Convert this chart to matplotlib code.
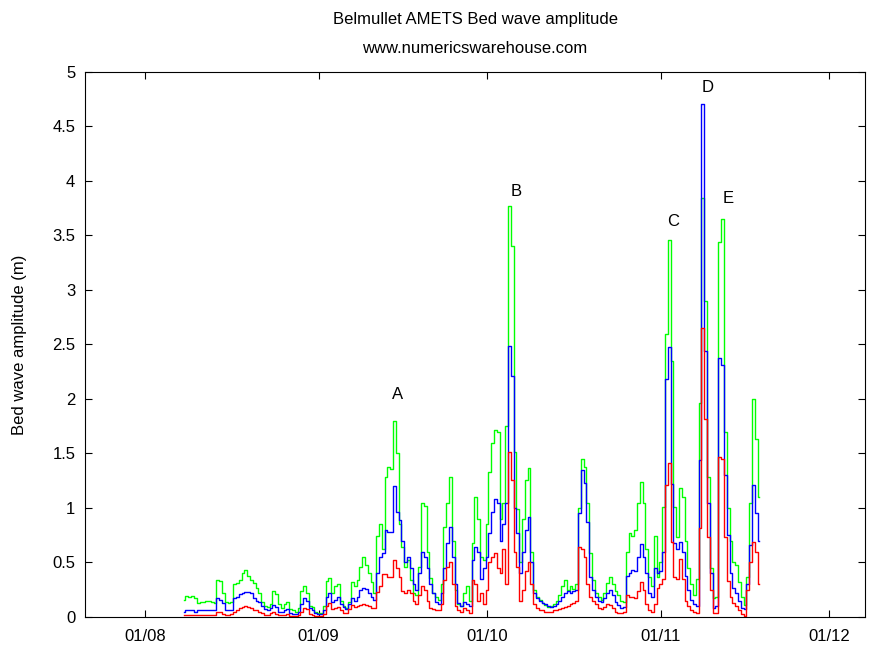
import numpy as np
import matplotlib
matplotlib.use('Agg')
import matplotlib.pyplot as plt
import matplotlib.dates as mdates
import matplotlib.ticker as ticker

# 12-hourly samples starting 08/08
start = np.datetime64('2012-08-08T00')

green = [0.16, 0.19, 0.18, 0.19, 0.17, 0.13, 0.14, 0.14, 0.15, 0.15,
         0.14, 0.13, 0.34, 0.33, 0.22, 0.14, 0.13, 0.14, 0.30, 0.31,
         0.34, 0.40, 0.43, 0.38, 0.34, 0.31, 0.27, 0.22, 0.14, 0.10,
         0.09, 0.12, 0.24, 0.21, 0.12, 0.08, 0.12, 0.14, 0.07, 0.06,
         0.05, 0.08, 0.24, 0.28, 0.22, 0.10, 0.09, 0.05, 0.04, 0.04,
         0.10, 0.33, 0.36, 0.22, 0.28, 0.30, 0.15, 0.10, 0.08, 0.14,
         0.32, 0.28, 0.34, 0.46, 0.55, 0.48, 0.40, 0.32, 0.22, 0.74,
         0.85, 0.62, 1.28, 1.38, 1.36, 1.80, 1.50, 0.85, 0.64, 0.46,
         0.52, 0.34, 0.22, 0.20, 0.46, 1.05, 1.02, 0.60, 0.36, 0.22,
         0.18, 0.16, 0.30, 0.83, 1.05, 1.28, 0.70, 0.25, 0.12, 0.10,
         0.22, 0.28, 0.15, 0.68, 1.10, 0.90, 0.55, 0.52, 0.85, 1.33,
         1.60, 1.72, 1.70, 0.90, 1.05, 1.75, 3.77, 3.40, 1.51, 0.99,
         0.50, 0.90, 1.26, 1.37, 0.60, 0.25, 0.18, 0.16, 0.13, 0.11,
         0.09, 0.10, 0.12, 0.15, 0.20, 0.28, 0.34, 0.25, 0.28, 0.26,
         0.30, 1.00, 1.45, 1.38, 1.05, 0.59, 0.34, 0.22, 0.18, 0.16,
         0.22, 0.31, 0.37, 0.30, 0.24, 0.20, 0.15, 0.14, 0.60, 0.77,
         0.74, 0.80, 1.05, 1.24, 1.05, 0.62, 0.37, 0.28, 0.74, 0.37,
         0.50, 1.01, 2.60, 3.46, 2.35, 1.01, 0.73, 1.18, 1.10, 0.70,
         0.45, 0.30, 0.20, 0.35, 1.96, 3.84, 2.90, 1.28, 0.45, 0.17,
         0.18, 3.44, 3.65, 1.70, 1.00, 0.70, 0.50, 0.48, 0.32, 0.18,
         0.11, 0.37, 1.05, 2.00, 1.63, 1.10]

blue = [0.05, 0.06, 0.06, 0.06, 0.05, 0.06, 0.06, 0.06, 0.06, 0.06,
        0.06, 0.06, 0.17, 0.16, 0.13, 0.06, 0.06, 0.06, 0.17, 0.18,
        0.21, 0.22, 0.23, 0.23, 0.22, 0.17, 0.15, 0.14, 0.10, 0.07,
        0.06, 0.08, 0.11, 0.09, 0.05, 0.05, 0.06, 0.07, 0.04, 0.03,
        0.03, 0.05, 0.12, 0.17, 0.15, 0.08, 0.06, 0.04, 0.03, 0.03,
        0.06, 0.18, 0.22, 0.14, 0.16, 0.18, 0.12, 0.09, 0.07, 0.12,
        0.17, 0.15, 0.18, 0.25, 0.27, 0.26, 0.22, 0.18, 0.16, 0.40,
        0.55, 0.59, 0.80, 0.78, 0.78, 1.20, 0.96, 0.89, 0.70, 0.50,
        0.55, 0.45, 0.30, 0.25, 0.40, 0.60, 0.55, 0.45, 0.30, 0.22,
        0.14, 0.12, 0.22, 0.45, 0.68, 0.83, 0.55, 0.30, 0.13, 0.10,
        0.14, 0.12, 0.10, 0.52, 0.64, 0.60, 0.35, 0.45, 0.55, 0.77,
        0.96, 1.08, 1.05, 0.70, 0.85, 1.05, 2.49, 2.21, 1.00, 0.77,
        0.40, 0.60, 0.80, 0.92, 0.50, 0.22, 0.17, 0.15, 0.13, 0.12,
        0.10, 0.09, 0.10, 0.12, 0.15, 0.18, 0.22, 0.24, 0.22, 0.24,
        0.25, 0.95, 1.35, 1.23, 0.87, 0.37, 0.25, 0.18, 0.15, 0.14,
        0.17, 0.22, 0.25, 0.20, 0.14, 0.11, 0.08, 0.09, 0.38, 0.40,
        0.43, 0.42, 0.55, 0.67, 0.55, 0.40, 0.22, 0.18, 0.45, 0.40,
        0.42, 0.60, 2.18, 2.48, 1.22, 0.68, 0.62, 0.69, 0.60, 0.38,
        0.25, 0.16, 0.12, 0.10, 1.44, 4.71, 2.44, 1.05, 0.40, 0.08,
        0.10, 2.38, 2.31, 1.30, 0.75, 0.40, 0.27, 0.22, 0.15, 0.08,
        0.07, 0.30, 0.66, 1.21, 0.95, 0.70]

red = [0.02, 0.02, 0.02, 0.02, 0.02, 0.02, 0.02, 0.02, 0.02, 0.02,
       0.02, 0.02, 0.05, 0.05, 0.03, 0.02, 0.02, 0.03, 0.05, 0.06,
       0.08, 0.09, 0.10, 0.09, 0.08, 0.06, 0.06, 0.05, 0.04, 0.02,
       0.02, 0.04, 0.05, 0.03, 0.02, 0.02, 0.02, 0.03, 0.01, 0.01,
       0.01, 0.02, 0.05, 0.08, 0.07, 0.03, 0.02, 0.01, 0.01, 0.01,
       0.03, 0.10, 0.13, 0.07, 0.08, 0.09, 0.06, 0.04, 0.04, 0.07,
       0.11, 0.09, 0.10, 0.11, 0.12, 0.11, 0.10, 0.08, 0.08, 0.23,
       0.28, 0.39, 0.39, 0.37, 0.37, 0.52, 0.45, 0.37, 0.24, 0.22,
       0.25, 0.22, 0.15, 0.12, 0.20, 0.28, 0.25, 0.15, 0.08, 0.07,
       0.06, 0.06, 0.12, 0.34, 0.46, 0.50, 0.30, 0.10, 0.06, 0.05,
       0.08, 0.06, 0.04, 0.34, 0.30, 0.15, 0.22, 0.12, 0.25, 0.50,
       0.55, 0.59, 0.45, 0.40, 0.62, 0.30, 1.51, 1.26, 0.60, 0.46,
       0.15, 0.25, 0.42, 0.50, 0.30, 0.12, 0.08, 0.06, 0.06, 0.05,
       0.05, 0.05, 0.06, 0.06, 0.07, 0.08, 0.09, 0.10, 0.12, 0.13,
       0.15, 0.64, 0.62, 0.55, 0.30, 0.18, 0.15, 0.12, 0.08, 0.07,
       0.09, 0.12, 0.11, 0.08, 0.05, 0.04, 0.04, 0.05, 0.20, 0.18,
       0.18, 0.17, 0.24, 0.32, 0.25, 0.12, 0.06, 0.05, 0.12, 0.27,
       0.30, 0.35, 1.21, 1.41, 0.69, 0.37, 0.35, 0.53, 0.35, 0.15,
       0.10, 0.06, 0.05, 0.04, 0.82, 2.65, 1.82, 0.73, 0.25, 0.04,
       0.04, 1.47, 1.45, 0.73, 0.33, 0.18, 0.13, 0.10, 0.06, 0.03,
       0.01, 0.25, 0.50, 0.69, 0.60, 0.30]

# storm labels: (text, date, height)
events = [('A', '2012-09-15T03', 2.04), ('B', '2012-10-06T07', 3.90),
          ('C', '2012-11-03T05', 3.63), ('D', '2012-11-09T10', 4.86),
          ('E', '2012-11-12T23', 3.84)]

plt.rcParams['font.family'] = ['Liberation Sans', 'DejaVu Sans']

t = start + np.arange(len(green)) * np.timedelta64(12, 'h')

fig = plt.figure(figsize=(8.7, 6.52), dpi=100)
ax = fig.add_axes([0.0977, 0.0537, 0.8966, 0.8359])

ax.plot(t, green, color='#00ff00', lw=1.0, drawstyle='steps-mid')
ax.plot(t, blue, color='#0000ff', lw=1.0, drawstyle='steps-mid')
ax.plot(t, red, color='#ff0000', lw=1.0, drawstyle='steps-mid')

for label, when, h in events:
    ax.text(np.datetime64(when), h, label, ha='center', va='center', fontsize=12)

ax.set_xlim(np.datetime64('2012-07-21T08'), np.datetime64('2012-12-07T10'))
ax.set_ylim(0, 5)
ax.xaxis.set_major_locator(mdates.MonthLocator(bymonthday=1))
ax.xaxis.set_major_formatter(mdates.DateFormatter('%d/%m'))
ax.yaxis.set_major_locator(ticker.MultipleLocator(0.5))
ax.yaxis.set_major_formatter(ticker.FormatStrFormatter('%g'))
ax.tick_params(direction='in', top=True, right=True, length=5, labelsize=12)
ax.tick_params(axis='x', pad=9)
ax.tick_params(axis='y', pad=7)

ax.set_ylabel('Bed wave amplitude (m)', fontsize=12)
ax.yaxis.set_label_coords(-0.074, 0.5)
ax.set_title('Belmullet AMETS Bed wave amplitude\nwww.numericswarehouse.com',
             fontsize=12, linespacing=2.15, pad=14)

fig.savefig('out.png', dpi=100)
